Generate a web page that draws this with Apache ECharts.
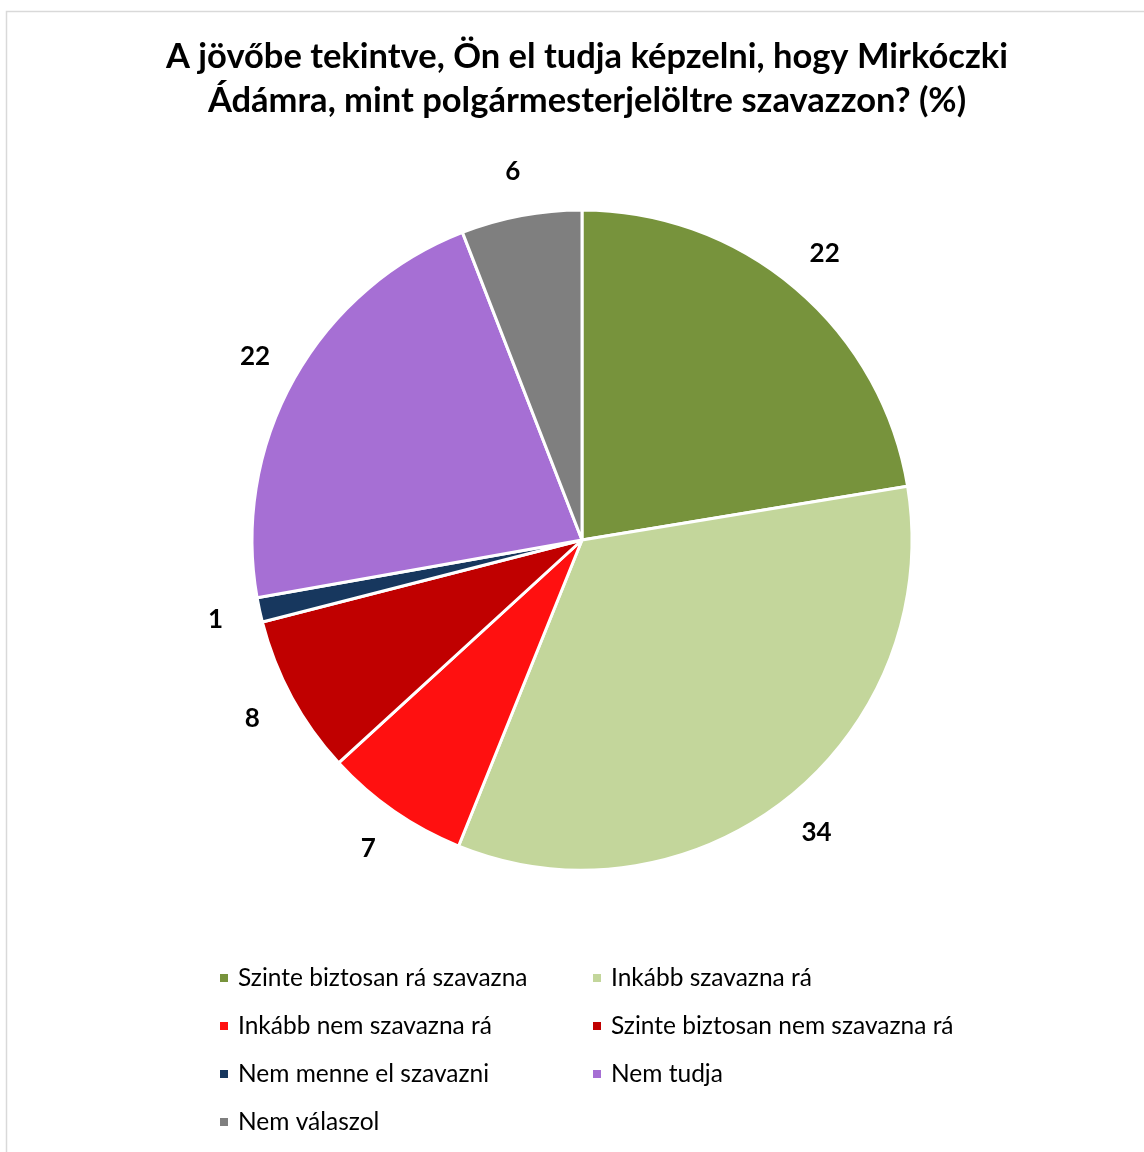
<!DOCTYPE html>
<html>
<head>
<meta charset="utf-8">
<script src="https://cdn.jsdelivr.net/npm/echarts@6/dist/echarts.min.js"></script>
<style>
html,body{margin:0;padding:0;background:#fff;}
#chart{width:1144px;height:1152px;}
</style>
</head>
<body>
<div id="chart"></div>
<script>
const titleText = "A jövőbe tekintve, Ön el tudja képzelni, hogy Mirkóczki\nÁdámra, mint polgármesterjelöltre szavazzon? (%)";
const categories = [
  "Szinte biztosan rá szavazna",
  "Inkább szavazna rá",
  "Inkább nem szavazna rá",
  "Szinte biztosan nem szavazna rá",
  "Nem menne el szavazni",
  "Nem tudja",
  "Nem válaszol"
];
const values = [22.4, 33.7, 7.1, 7.8, 1.2, 21.9, 5.9];
const palette = ["#77933C", "#C3D69B", "#FF1010", "#C00000", "#17375E", "#A66FD4", "#7F7F7F"];

const pieData = categories.map((c, i) => ({ name: c, value: values[i] }));

const chart = echarts.init(document.getElementById('chart'), null, { renderer: 'canvas' });
const FONT = 'Lato, "Open Sans", sans-serif';

chart.setOption({
  animation: false,
  backgroundColor: '#ffffff',
  color: palette,
  graphic: [{
    type: 'rect',
    shape: { x: 6.5, y: 11.5, width: 1300, height: 1300 },
    style: { fill: 'none', stroke: '#d9d9d9', lineWidth: 1.5 },
    silent: true
  }],
  title: {
    text: titleText,
    left: 582,
    top: 30,
    textAlign: 'center',
    textStyle: {
      fontFamily: FONT,
      fontWeight: 'bold',
      fontSize: 34.5,
      lineHeight: 44,
      color: '#000'
    }
  },
  legend: {
    data: categories,
    left: 213,
    top: 960,
    width: 760,
    orient: 'horizontal',
    itemWidth: 10,
    itemHeight: 10,
    itemGap: 22,
    icon: 'rect',
    textStyle: {
      fontFamily: FONT,
      fontSize: 24.5,
      color: '#000',
      width: 331,
      lineHeight: 26,
      padding: [0, 0, 0, 4]
    }
  },
  series: [
    {
      type: 'pie',
      center: [582, 540],
      radius: [0, 330],
      startAngle: 90,
      clockwise: true,
      data: pieData,
      label: { show: false },
      labelLine: { show: false },
      itemStyle: { borderColor: '#ffffff', borderWidth: 3 },
      emphasis: { disabled: true }
    },
    {
      type: 'pie',
      center: [582, 540],
      radius: [330, 414],
      startAngle: 90,
      clockwise: true,
      data: pieData,
      silent: true,
      legendHoverLink: false,
      itemStyle: { color: 'rgba(0,0,0,0)', borderWidth: 0 },
      label: {
        show: true,
        position: 'inside',
        formatter: p => String(Math.round(p.value)),
        fontFamily: FONT,
        fontWeight: 'bold',
        fontSize: 26,
        color: '#000'
      },
      labelLine: { show: false },
      emphasis: { disabled: true }
    }
  ]
});
</script>
</body>
</html>
